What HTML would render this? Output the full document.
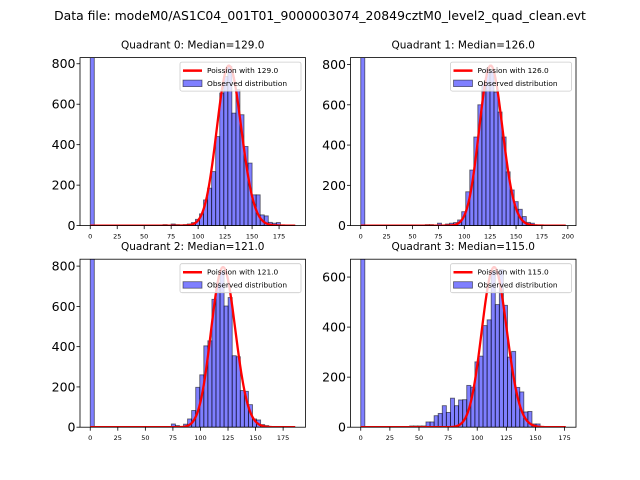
<!DOCTYPE html>
<html><head><meta charset="utf-8"><style>
html,body{margin:0;padding:0;background:#fff;}
svg{display:block;font-family:"DejaVu Sans","Liberation Sans",sans-serif;}
</style></head><body>
<svg id="fig" width="640" height="480" viewBox="0 0 640 480" xmlns="http://www.w3.org/2000/svg">
<rect width="640" height="480" fill="#fff"/>
<text x="320" y="20" text-anchor="middle" font-size="12.4">Data file: modeM0/AS1C04_001T01_9000003074_20849cztM0_level2_quad_clean.evt</text>
</svg>
<script>
// ---- data ----
const quadrants = ["Quadrant 0", "Quadrant 1", "Quadrant 2", "Quadrant 3"];
const medians = [129.0, 126.0, 121.0, 115.0];
const totals = [22530, 22375, 21925, 17200];
const xMaxs = [190, 198, 186, 176];
const binWidths = [3.75, 3.9, 3.68, 3.5];
const counts0 = [900,0,0,0,0,0,0,0,0,0,0,0,0,0,0,0,0,0,5,0,8,5,0,5,8,15,31,58,127,185,267,440,655,737,787,556,672,548,391,309,152,152,53,48,16,12,15,3];
const counts1 = [900,0,0,0,0,0,0,0,0,0,0,0,0,0,3,0,5,5,0,12,0,8,12,15,28,69,168,276,440,600,705,780,770,663,564,440,267,177,119,81,45,16,12,3,3,2];
const counts2 = [900,0,0,0,0,0,0,0,0,0,0,0,0,0,0,0,0,0,0,0,16,8,0,15,41,83,198,260,404,429,635,718,775,602,644,355,350,182,178,112,41,36,13,8,3];
const counts3 = [900,0,0,0,0,0,0,0,0,0,0,0,5,5,5,5,21,21,46,55,86,59,116,86,109,110,167,160,261,284,406,429,624,490,630,487,280,303,159,141,61,63,13,13];
const xTicks0 = [0,25,50,75,100,125,150,175];
const xTicks1 = [0,25,50,75,100,125,150,175,200];
const xTicks2 = [0,25,50,75,100,125,150,175];
const xTicks3 = [0,25,50,75,100,125,150,175];
const yTicks0 = [0,200,400,600,800];
const yTicks1 = [0,200,400,600,800];
const yTicks2 = [0,200,400,600,800];
const yTicks3 = [0,200,400,600];

const countsAll=[counts0,counts1,counts2,counts3];
const xTicksAll=[xTicks0,xTicks1,xTicks2,xTicks3];
const yTicksAll=[yTicks0,yTicks1,yTicks2,yTicks3];
const NS="http://www.w3.org/2000/svg";
const svg=document.getElementById('fig');
function mk(tag,attrs,parent){const e=document.createElementNS(NS,tag);for(const k in attrs)e.setAttribute(k,attrs[k]);(parent||svg).appendChild(e);return e;}
function lfact(n){let s=0;for(let i=2;i<=n;i++)s+=Math.log(i);return s;}
const boxes=[[80,57.6],[350.5,57.6],[80,259.2],[350.5,259.2]];
const AW=225.5, AH=168;
for(let q=0;q<4;q++){
  const [L,T]=boxes[q];
  const mu=medians[q], N=totals[q], M=xMaxs[q], w=binWidths[q], cnt=countsAll[q];
  const g=mk('g',{});
  
  
  const curveX=[],curveY=[];
  for(let k=0;k<=Math.floor(M);k++){curveX.push(k);curveY.push(N*Math.exp(k*Math.log(mu)-mu-lfact(k)));}
  const ymax=1.05*Math.max(...curveY);
  const x0=-0.05*M, x1=1.05*M;
  const sx=v=>L+(v-x0)/(x1-x0)*AW;
  const sy=v=>T+AH-(v/ymax)*AH;
  const clip=mk('clipPath',{id:'clip'+q},g);
  mk('rect',{x:L,y:T,width:AW,height:AH},clip);
  const plot=mk('g',{'clip-path':'url(#clip'+q+')'},g);
  cnt.forEach((c,i)=>{
    if(c<=0)return;
    const r=mk('rect',{x:sx(i*w),y:sy(c),width:sx((i+1)*w)-sx(i*w),height:sy(0)-sy(c),fill:'#0000ff','fill-opacity':0.5,stroke:'#000','stroke-opacity':0.55,'stroke-width':0.9},plot);
    
    
  });
  let d='';curveX.forEach((x,i)=>{d+=(i?'L':'M')+sx(x).toFixed(2)+','+sy(curveY[i]).toFixed(2);});
  const path=mk('path',{d:d,fill:'none',stroke:'#ff0000','stroke-width':2.3,'stroke-linejoin':'round'},plot);
  
  
  const fr=mk('rect',{x:L,y:T,width:AW,height:AH,fill:'none',stroke:'#000','stroke-width':0.8},g);
  
  
  xTicksAll[q].forEach(t=>{
    const X=sx(t);
    mk('line',{x1:X,x2:X,y1:T+AH,y2:T+AH+3.5,stroke:'#000','stroke-width':0.8},g);
    const tx=mk('text',{x:X,y:T+AH+13,'text-anchor':'middle','font-size':6.5},g);
    tx.textContent=t;
    
    
  });
  yTicksAll[q].forEach(t=>{
    const Y=sy(t);
    mk('line',{x1:L,x2:L-3.5,y1:Y,y2:Y,stroke:'#000','stroke-width':0.8},g);
    const tx=mk('text',{x:L-4.5,y:Y+4.5,'text-anchor':'end','font-size':12.5},g);
    tx.textContent=t;
    
    
  });
  const ti=mk('text',{x:L+AW/2,y:T-9,'text-anchor':'middle','font-size':10.5},g);
  ti.textContent=quadrants[q]+': Median='+mu.toFixed(1);
  
  
  const lg=mk('g',{},g);
  
  
  const lw=121, lx=L+AW-4.5-lw, ly=T+4.5;
  mk('rect',{x:lx,y:ly,width:lw,height:29,rx:2,fill:'#fff','fill-opacity':0.8,stroke:'#ccc','stroke-width':0.8},lg);
  mk('line',{x1:lx+3,x2:lx+22,y1:ly+8.5,y2:ly+8.5,stroke:'#ff0000','stroke-width':2.5},lg);
  const t1=mk('text',{x:lx+27,y:ly+11,'font-size':7.4},lg);
  t1.textContent='Poission with '+mu.toFixed(1);
  
  
  mk('rect',{x:lx+3,y:ly+18,width:19,height:6.5,fill:'#0000ff','fill-opacity':0.5,stroke:'#000','stroke-opacity':0.55,'stroke-width':0.8},lg);
  const t2=mk('text',{x:lx+27,y:ly+24,'font-size':7.4},lg);
  t2.textContent='Observed distribution';
  
  
}
</script>
</body></html>
